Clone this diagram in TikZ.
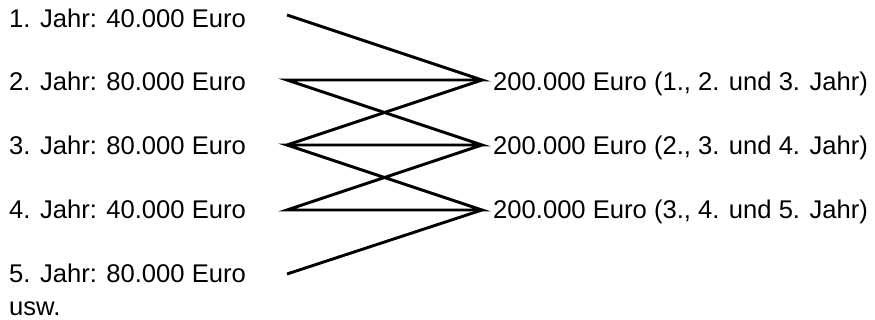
\documentclass[tikz,border=0pt]{standalone}
\usepackage{fontspec}
\setmainfont{Liberation Sans}
\begin{document}
\begin{tikzpicture}[x=1pt,y=-1pt,
  lbl/.style={anchor=base west,inner sep=0pt,font=\fontsize{25.6}{30}\selectfont},
  conn/.style={line width=2.9pt,line join=miter,miter limit=12}]
\useasboundingbox (0,0) rectangle (875,320);
\node[lbl] (t1) at (9,27.5) {1. Jahr: 40.000 Euro};
\node[lbl] (t2) at (9,91) {2. Jahr: 80.000 Euro};
\node[lbl] (t3) at (9,155) {3. Jahr: 80.000 Euro};
\node[lbl] (t4) at (9,219) {4. Jahr: 40.000 Euro};
\node[lbl] (t5) at (9,282.5) {5. Jahr: 80.000 Euro};
\node[lbl] (t6) at (9,315) {usw.};
\node[lbl] (s1) at (493,91) {200.000 Euro (1., 2. und 3. Jahr)};
\node[lbl] (s2) at (493,155) {200.000 Euro (2., 3. und 4. Jahr)};
\node[lbl] (s3) at (493,219) {200.000 Euro (3., 4. und 5. Jahr)};
\coordinate (L1) at (287,15);
\coordinate (L2) at (287,80);
\coordinate (L3) at (287,145);
\coordinate (L4) at (287,210);
\coordinate (L5) at (287,274);
\coordinate (R1) at (482,80);
\coordinate (R2) at (482,145);
\coordinate (R3) at (482,210);
\draw[conn] (L1) -- (R1) -- (L2) -- (R2) -- (L3) -- (R3) -- (L4) -- (R2);
\draw[conn] (L3) -- (R1);
\draw[conn] (L5) -- (R3);
\end{tikzpicture}
\end{document}
